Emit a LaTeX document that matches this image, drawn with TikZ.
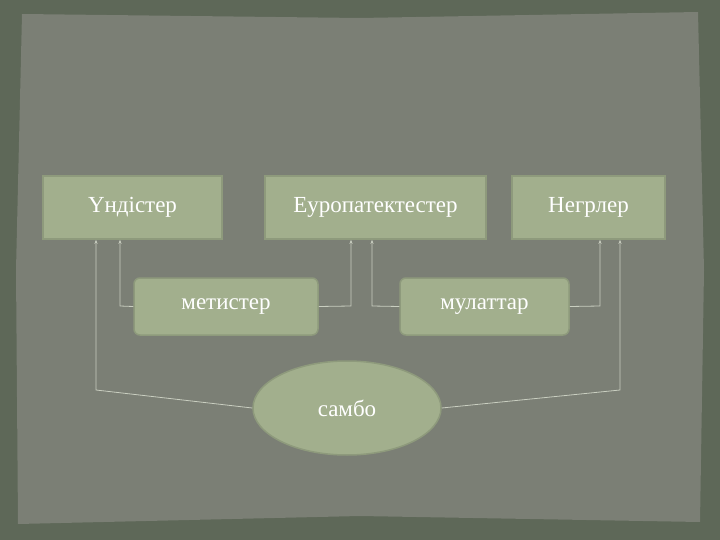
\documentclass[tikz,border=0pt]{standalone}
\usepackage{fontspec}
\setmainfont{Liberation Serif}
\usetikzlibrary{shapes.geometric,arrows.meta}
\definecolor{frame}{HTML}{5E6858}
\definecolor{panel}{HTML}{7B7F75}
\definecolor{boxfill}{HTML}{A2AF8D}
\definecolor{boxline}{HTML}{8E9A7C}
\definecolor{conn}{HTML}{C9CEC0}
\tikzset{
  box/.style={draw=boxline, line width=1.5pt, fill=boxfill, text=white, font=\fontsize{23}{26}\selectfont, inner sep=0pt},
  link/.style={draw=conn, line width=0.8pt, -{Stealth[length=4pt,width=3pt]}}
}
\begin{document}
\begin{tikzpicture}[x=1pt,y=-1pt]
\useasboundingbox (0,0) rectangle (720,540);
\fill[frame] (0,0) rectangle (720,540);
\fill[panel] (22,14) -- (360,18) -- (698,12) -- (704,270) -- (700,522) -- (360,516) -- (18,524) -- (16,270) -- cycle;
\node[box, minimum width=179pt, minimum height=63pt] (u) at (132.5,207.5) {Үндістер};
\node[box, minimum width=221pt, minimum height=63pt] (e) at (375.5,207.5) {Еуропатектестер};
\node[box, minimum width=153pt, minimum height=63pt] (n) at (588.5,207.5) {Негрлер};
\node[box, rounded corners=6pt, minimum width=184pt, minimum height=57pt] (m) at (226,306.5) {метистер};
\node[box, rounded corners=6pt, minimum width=169pt, minimum height=57pt] (ml) at (484.5,306.5) {мулаттар};
\node[box, ellipse, minimum width=188pt, minimum height=94pt] (s) at (347,408) {самбо};
\coordinate (a1) at (120,306);
\coordinate (a2) at (351,306);
\coordinate (a3) at (372,306);
\coordinate (a4) at (600,306);
\coordinate (b1) at (96,390);
\coordinate (b2) at (620,390);
\draw[link] (m.west) -- (a1) -- (u.south -| a1);
\draw[link] (m.east) -- (a2) -- (e.south -| a2);
\draw[link] (ml.west) -- (a3) -- (e.south -| a3);
\draw[link] (ml.east) -- (a4) -- (n.south -| a4);
\draw[link] (s.west) -- (b1) -- (u.south -| b1);
\draw[link] (s.east) -- (b2) -- (n.south -| b2);
\end{tikzpicture}
\end{document}
